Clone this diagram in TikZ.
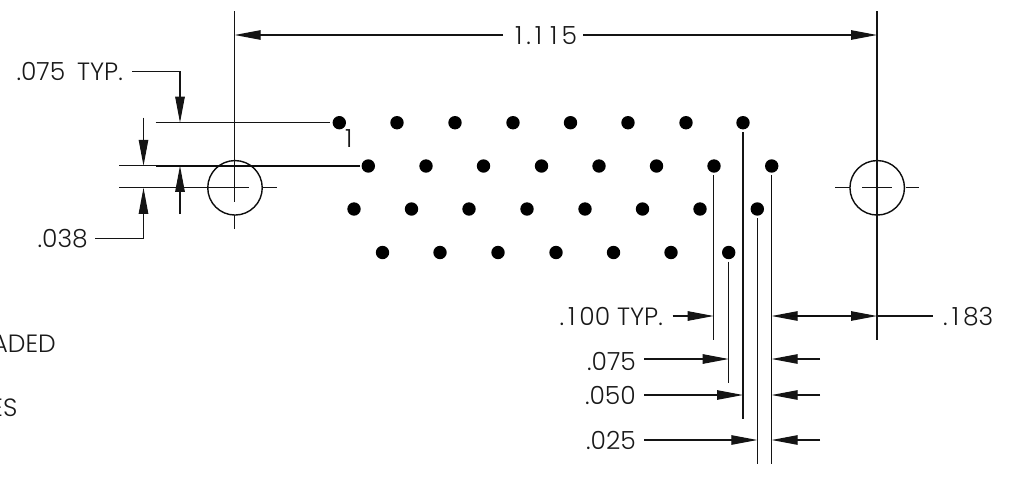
\documentclass[tikz,border=0pt]{standalone}
\usepackage{fontspec}
\setmainfont{Poppins}[UprightFont=* Light]
\usetikzlibrary{arrows.meta}
\newcommand{\wideone}{\kern4pt 1\kern4pt}
\tikzset{
  x=1pt,y=-1pt,
  dimline/.style={line width=1.05pt,color=black!92},
  thickline/.style={line width=1.4pt,color=black!95},
  dimarrow/.style={dimline,-{Triangle[length=26pt,width=9.5pt]}},
  dimboth/.style={dimline,{Triangle[length=26pt,width=9.5pt]}-{Triangle[length=26pt,width=9.5pt]}},
  hole/.style={draw=black!95,line width=1.4pt,circle,inner sep=0pt,minimum size=54.5pt},
  pin/.style={fill=black,circle,inner sep=0pt,minimum size=13.4pt},
  dimtext/.style={inner sep=0pt,text height=18pt,text depth=0pt,font=\fontsize{25}{25}\selectfont,color=black!90}
}
\begin{document}
\begin{tikzpicture}
\useasboundingbox (0,0) rectangle (1012,477);
% pins
\foreach \n/\px in {a/339.3,b/397,c/455,d/513,e/570.5,f/628,g/686,h/743}
  \node[pin] (r1\n) at (\px,122.7) {};
\foreach \n/\px in {a/368.3,b/426,c/483.5,d/541.5,e/599,f/656.5,g/714,h/771.7}
  \node[pin] (r2\n) at (\px,166) {};
\foreach \n/\px in {a/354,b/411.5,c/469,d/527,e/585,f/642.5,g/700,h/757.3}
  \node[pin] (r3\n) at (\px,209) {};
\foreach \n/\px in {a/382.5,b/440,c/498,d/556,e/613.5,f/671,g/728.7}
  \node[pin] (r4\n) at (\px,252.5) {};
% mounting holes
\node[hole] (hl) at (235,187.8) {};
\node[hole] (hr) at (877.2,187.8) {};
% labels
\node[dimtext] (t1115) at (544,35) {\wideone.\wideone\wideone 5};
\node[dimtext,anchor=east] (t075typ) at (123,71.7) {.075\kern5pt{} TYP.};
\node[dimtext,anchor=east] (t038) at (88,238.7) {.038};
\node[dimtext,anchor=east] (t100typ) at (663,316.5) {.\wideone 00 TYP.};
\node[dimtext,anchor=east] (t075) at (636,361) {.075};
\node[dimtext,anchor=east] (t050) at (636,395.5) {.050};
\node[dimtext,anchor=east] (t025) at (636,440.7) {.025};
\node[dimtext,anchor=west] (t183) at (943,316.5) {.\wideone 83};
\node[dimtext,anchor=east] (tpin) at (352.5,138.5) {1};
\node[dimtext,anchor=east] (tded) at (56,343) {ADED};
\node[dimtext,anchor=east] (tes) at (17.5,407) {ES};
% leader starts
\coordinate (l100) at (672.7,316);
\coordinate (l075) at (644,359);
\coordinate (l050) at (644,395);
\coordinate (l025) at (644,440);
% centre marks and extension lines, left hole
\draw[dimline] (234.7,11) -- (234.7,202);
\draw[dimline] (234.7,215) -- (234.7,229);
\draw[dimline] (119,187.8) -- (249,187.8);
\draw[dimline] (262.3,187.8) -- (276.5,187.8);
% right hole
\draw[dimline] (877,11) -- (877,340);
\draw[dimline] (835,187.8) -- (850,187.8);
\draw[dimline] (862,187.8) -- (892,187.8);
\draw[dimline] (905.5,187.8) -- (918.7,187.8);
% 1.115
\draw[dimarrow] (503,35) -- (234.7,35);
\draw[dimarrow] (583,35) -- (877,35);
% left extension lines
\draw[dimline] (155.5,122.7) -- (330,122.7);
\draw[dimline] (119,165.8) -- (155.5,165.8);
\draw[thickline] (155.5,165.8) -- (360,165.8);
% .075 TYP. and .038
\draw[dimarrow] (t075typ.east) ++(9,0) -| (180,122.7);
\draw[dimarrow] (180,214) -- (180,165.8);
\draw[dimarrow] (143.5,117.7) -- (143.5,165.8);
\draw[dimarrow] (t038.east) ++(7,0) -| (143.5,187.8);
% right extension lines
\draw[dimline] (713.7,175) -- (713.7,340);
\draw[dimline] (728.7,261.5) -- (728.7,383);
\draw[dimline] (743,132) -- (743,419);
\draw[dimline] (757.3,218) -- (757.3,464);
\draw[thickline] (771.7,175) -- (771.7,419);
\draw[dimline] (771.7,419) -- (771.7,464);
% right dimensions
\draw[dimarrow] (l100) -- (713.7,316);
\draw[dimarrow] (l075) -- (728.7,359);
\draw[dimarrow] (l050) -- (743,395);
\draw[dimarrow] (l025) -- (757.3,440);
\draw[dimline] (877,316) -- (933,316);
\draw[dimboth] (771.7,316) -- (877,316);
\draw[thickline] (790,316) -- (820,316);
\draw[dimarrow] (820,359) -- (771.7,359);
\draw[dimarrow] (820,395) -- (771.7,395);
\draw[dimarrow] (820,440) -- (771.7,440);
\end{tikzpicture}
\end{document}
